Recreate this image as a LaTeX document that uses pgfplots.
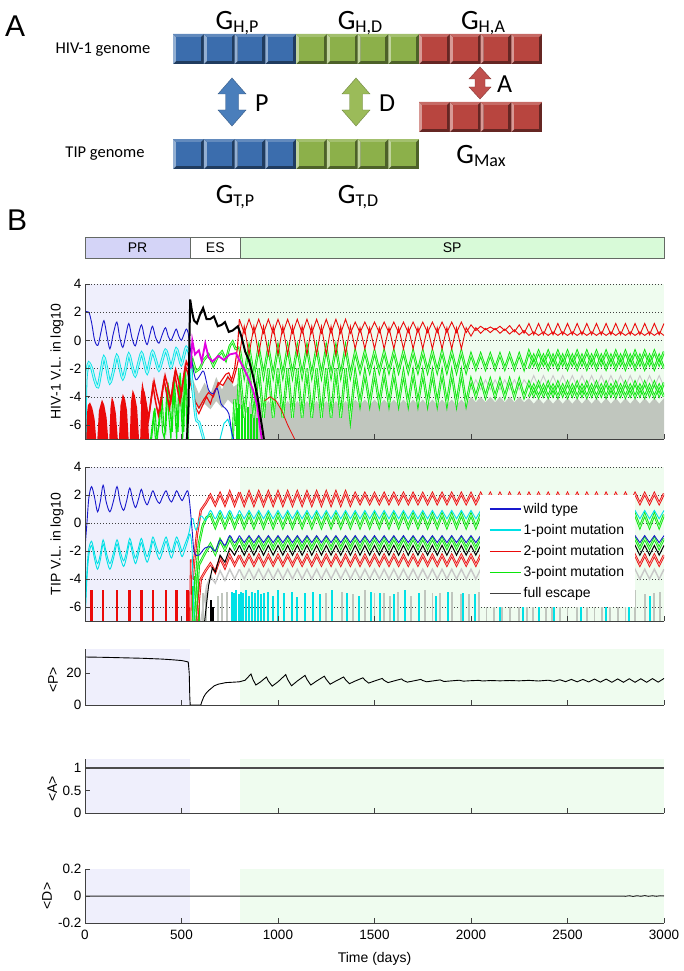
\documentclass[border=0pt]{standalone}
\usepackage{fontspec}
\setmainfont{Liberation Sans}
\newfontfamily\carl{Carlito}
\usepackage{pgfplots}
\pgfplotsset{compat=1.18}
\usepackage{pgfplotstable}
\newcommand{\fs}[1]{\fontsize{#1}{#1}\selectfont}
\definecolor{hblue}{RGB}{25,25,205}
\definecolor{hcyan}{RGB}{0,225,230}
\definecolor{hred}{RGB}{235,10,10}
\definecolor{hgreen}{RGB}{10,230,10}
\definecolor{hmag}{RGB}{225,0,225}
\definecolor{hgray}{RGB}{192,198,190}
\definecolor{hgrayl}{RGB}{200,200,200}
\definecolor{prshade}{RGB}{239,239,252}
\definecolor{spshade}{RGB}{239,252,239}
\definecolor{prbar}{RGB}{212,212,247}
\definecolor{spbar}{RGB}{216,250,216}
\definecolor{axgray}{RGB}{64,64,64}
\definecolor{bargray}{RGB}{100,105,100}
\definecolor{bblue}{RGB}{59,109,173}
\definecolor{bgreen}{RGB}{140,176,74}
\definecolor{bred}{RGB}{184,69,63}
\definecolor{ablue}{RGB}{74,126,187}
\definecolor{agreen}{RGB}{155,187,89}
\definecolor{ared}{RGB}{192,80,77}
\newcommand{\blk}[3]{%
 \pgfmathsetmacro\bx{#1}%
 \fill[#3!55!black] (\bx pt,-#2 pt) rectangle ++(30.75pt,-30pt);
 \fill[#3!55!white] (\bx pt,-#2 pt) -- ++(3pt,-3pt) -- ++(0pt,-24pt) -- ++(-3pt,-3pt) -- cycle;
 \fill[#3!80!white] (\bx pt,-#2 pt) -- ++(30.75pt,0pt) -- ++(-3pt,-3pt) -- ++(-24.75pt,0pt) -- cycle;
 \fill[#3] (\bx pt+3pt,-#2 pt-3pt) rectangle ++(24.75pt,-24pt);
}
\pgfplotstableread{
t r1 r2 gu gu2 gl gl2 gy gyl rt ct gt bt gtt kt rtt gyt
800 1.5 -1.0 -0.5 nan -2.0 nan nan nan 2.2 0.9 0.6 -0.9 -1.1 -1.6 -2.3 -3.3
825 0.5 1.0 -2.5 nan -5.5 nan nan nan 1.3 0.3 -0.3 -1.4 -1.8 -2.3 -3.0 -4.0
850 1.5 -1.0 -0.5 nan -2.0 nan -4.3 nan 2.2 0.9 0.6 -0.9 -1.1 -1.6 -2.3 -3.3
875 0.5 1.0 -2.5 nan -5.5 nan -4.8 nan 1.3 0.3 -0.3 -1.4 -1.8 -2.3 -3.0 -4.0
900 1.5 -1.0 -0.5 nan -2.0 nan -4.3 nan 2.2 0.9 0.6 -0.9 -1.1 -1.6 -2.3 -3.3
925 0.5 1.0 -2.5 nan -5.5 nan -4.8 nan 1.3 0.3 -0.3 -1.4 -1.8 -2.3 -3.0 -4.0
950 1.5 -1.0 -0.5 nan -2.0 nan -4.3 nan 2.2 0.9 0.6 -0.9 -1.1 -1.6 -2.3 -3.3
975 0.5 1.0 -2.5 nan -5.5 nan -4.8 nan 1.3 0.3 -0.3 -1.4 -1.8 -2.3 -3.0 -4.0
1000 1.5 -1.0 -0.5 nan -2.0 nan -4.3 nan 2.2 0.9 0.6 -0.9 -1.1 -1.6 -2.3 -3.3
1025 0.5 1.0 -2.5 nan -5.5 nan -4.8 nan 1.3 0.3 -0.3 -1.4 -1.8 -2.3 -3.0 -4.0
1050 1.5 -1.0 -0.5 nan -2.0 nan -4.3 nan 2.2 0.9 0.6 -0.9 -1.1 -1.6 -2.3 -3.3
1075 0.5 1.0 -2.5 nan -5.5 nan -4.8 nan 1.3 0.3 -0.3 -1.4 -1.8 -2.3 -3.0 -4.0
1100 1.5 -1.0 -0.5 nan -2.0 nan -4.3 nan 2.2 0.9 0.6 -0.9 -1.1 -1.6 -2.3 -3.3
1125 0.5 1.0 -2.5 nan -5.5 nan -4.8 nan 1.3 0.3 -0.3 -1.4 -1.8 -2.3 -3.0 -4.0
1150 1.5 -1.0 -0.5 nan -2.0 nan -4.3 nan 2.2 0.9 0.6 -0.9 -1.1 -1.6 -2.3 -3.3
1175 0.5 1.0 -2.5 nan -5.5 nan -4.8 nan 1.3 0.3 -0.3 -1.4 -1.8 -2.3 -3.0 -4.0
1200 1.5 -1.0 -0.5 nan -2.0 nan -4.3 nan 2.2 0.9 0.6 -0.9 -1.1 -1.6 -2.3 -3.3
1225 0.5 1.0 -2.5 nan -5.5 nan -4.8 nan 1.3 0.3 -0.3 -1.4 -1.8 -2.3 -3.0 -4.0
1250 1.5 -1.0 -0.5 nan -2.0 nan -4.3 nan 2.2 0.9 0.6 -0.9 -1.1 -1.6 -2.3 -3.3
1275 0.5 1.0 -2.5 nan -5.5 nan -4.8 nan 1.3 0.3 -0.3 -1.4 -1.8 -2.3 -3.0 -4.0
1300 1.5 -1.0 -0.5 nan -2.0 nan -4.3 nan 2.2 0.9 0.6 -0.9 -1.1 -1.6 -2.3 -3.3
1325 0.5 1.0 -2.5 nan -5.5 nan -4.8 nan 1.3 0.3 -0.3 -1.4 -1.8 -2.3 -3.0 -4.0
1350 1.5 -1.0 -0.5 nan -2.0 nan -4.3 nan 2.2 0.9 0.6 -0.9 -1.1 -1.6 -2.3 -3.3
1375 0.5 1.0 -2.5 nan -5.5 nan -4.8 nan 1.3 0.3 -0.3 -1.4 -1.8 -2.3 -3.0 -4.0
1400 1.3 -0.6 -0.8 nan -2.3 nan -4.2 nan 2.1 0.9 0.6 -0.9 -1.1 -1.6 -2.3 -3.3
1425 0.55 0.9 -2.2 nan -4.5 nan -4.6 nan 1.4 0.3 -0.3 -1.4 -1.8 -2.3 -3.0 -4.0
1450 1.3 -0.6 -0.8 nan -2.3 nan -4.2 nan 2.1 0.9 0.6 -0.9 -1.1 -1.6 -2.3 -3.3
1475 0.55 0.9 -2.2 nan -4.5 nan -4.6 nan 1.4 0.3 -0.3 -1.4 -1.8 -2.3 -3.0 -4.0
1500 1.3 -0.6 -0.8 nan -2.3 nan -4.2 nan 2.1 0.9 0.6 -0.9 -1.1 -1.6 -2.3 -3.3
1525 0.55 0.9 -2.2 nan -4.5 nan -4.6 nan 1.4 0.3 -0.3 -1.4 -1.8 -2.3 -3.0 -4.0
1550 1.3 -0.6 -0.8 nan -2.3 nan -4.2 nan 2.1 0.9 0.6 -0.9 -1.1 -1.6 -2.3 -3.3
1575 0.55 0.9 -2.2 nan -4.5 nan -4.6 nan 1.4 0.3 -0.3 -1.4 -1.8 -2.3 -3.0 -4.0
1600 1.3 -0.6 -0.8 nan -2.3 nan -4.2 nan 2.1 0.9 0.6 -0.9 -1.1 -1.6 -2.3 -3.3
1625 0.55 0.9 -2.2 nan -4.5 nan -4.6 nan 1.4 0.3 -0.3 -1.4 -1.8 -2.3 -3.0 -4.0
1650 1.3 -0.6 -0.8 nan -2.3 nan -4.2 nan 2.1 0.9 0.6 -0.9 -1.1 -1.6 -2.3 -3.3
1675 0.55 0.9 -2.2 nan -4.5 nan -4.6 nan 1.4 0.3 -0.3 -1.4 -1.8 -2.3 -3.0 -4.0
1700 1.3 -0.6 -0.8 nan -2.3 nan -4.2 nan 2.1 0.9 0.6 -0.9 -1.1 -1.6 -2.3 -3.3
1725 0.55 0.9 -2.2 nan -4.5 nan -4.6 nan 1.4 0.3 -0.3 -1.4 -1.8 -2.3 -3.0 -4.0
1750 1.3 -0.6 -0.8 nan -2.3 nan -4.2 nan 2.1 0.9 0.6 -0.9 -1.1 -1.6 -2.3 -3.3
1775 0.55 0.9 -2.2 nan -4.5 nan -4.6 nan 1.4 0.3 -0.3 -1.4 -1.8 -2.3 -3.0 -4.0
1800 1.3 -0.6 -0.8 nan -2.3 nan -4.2 nan 2.1 0.9 0.6 -0.9 -1.1 -1.6 -2.3 -3.3
1825 0.55 0.9 -2.2 nan -4.5 nan -4.6 nan 1.4 0.3 -0.3 -1.4 -1.8 -2.3 -3.0 -4.0
1850 1.3 -0.6 -0.8 nan -2.3 nan -4.2 nan 2.1 0.9 0.6 -0.9 -1.1 -1.6 -2.3 -3.3
1875 0.55 0.9 -2.2 nan -4.5 nan -4.6 nan 1.4 0.3 -0.3 -1.4 -1.8 -2.3 -3.0 -4.0
1900 1.3 -0.6 -0.8 nan -2.3 nan -4.2 nan 2.1 0.9 0.6 -0.9 -1.1 -1.6 -2.3 -3.3
1925 0.55 0.9 -2.2 nan -4.5 nan -4.6 nan 1.4 0.3 -0.3 -1.4 -1.8 -2.3 -3.0 -4.0
1950 1.3 -0.6 -0.8 nan -2.3 nan -4.2 nan 2.1 0.9 0.6 -0.9 -1.1 -1.6 -2.3 -3.3
1975 0.55 0.9 -2.2 nan -4.5 nan -4.6 nan 1.4 0.3 -0.3 -1.4 -1.8 -2.3 -3.0 -4.0
2000 1.1 0.3 -1.0 nan -2.8 nan -4.0 -3.5 2.1 0.9 0.6 -0.9 -1.1 -1.6 -2.3 -3.3
2025 0.7 0.9 -2.0 nan -4.0 nan -4.4 -2.8 1.4 0.3 -0.3 -1.4 -1.8 -2.3 -3.0 -4.0
2050 1.0 0.5 -1.0 nan -2.8 nan -4.0 -3.5 2.1 0.9 0.6 -0.9 -1.1 -1.6 -2.3 -3.3
2075 0.75 0.85 -2.0 nan -4.0 nan -4.4 -2.8 1.4 0.3 -0.3 -1.4 -1.8 -2.3 -3.0 -4.0
2100 0.95 0.55 -1.0 nan -2.8 nan -4.0 -3.5 2.1 0.9 0.6 -0.9 -1.1 -1.6 -2.3 -3.3
2125 0.75 0.85 -2.0 nan -4.0 nan -4.4 -2.8 1.4 0.3 -0.3 -1.4 -1.8 -2.3 -3.0 -4.0
2150 1.0 0.5 -1.0 nan -2.8 nan -4.0 -3.5 2.1 0.9 0.6 -0.9 -1.1 -1.6 -2.3 -3.3
2175 0.7 0.8 -2.0 nan -4.0 nan -4.4 -2.8 1.4 0.3 -0.3 -1.4 -1.8 -2.3 -3.0 -4.0
2200 1.05 0.45 -1.0 nan -2.8 nan -4.0 -3.5 2.1 0.9 0.6 -0.9 -1.1 -1.6 -2.3 -3.3
2225 0.6 0.75 -2.0 nan -4.0 nan -4.4 -2.8 1.4 0.3 -0.3 -1.4 -1.8 -2.3 -3.0 -4.0
2250 1.1 0.4 -1.0 nan -2.8 nan -4.0 -3.5 2.1 0.9 0.6 -0.9 -1.1 -1.6 -2.3 -3.3
2275 0.5 0.7 -2.0 nan -4.0 nan -4.4 -2.8 1.4 0.3 -0.3 -1.4 -1.8 -2.3 -3.0 -4.0
2300 1.2 0.35 -0.8 -2.0 -3.0 -4.0 -4.1 -3.3 2.1 0.9 0.6 -0.9 -1.1 -1.6 -2.3 -3.3
2325 0.4 0.6 -1.7 -1.1 -3.9 -3.2 -4.5 -2.5 1.4 0.3 -0.3 -1.4 -1.8 -2.3 -3.0 -4.0
2350 1.2 0.35 -0.8 -2.0 -3.0 -4.0 -4.1 -3.3 2.1 0.9 0.6 -0.9 -1.1 -1.6 -2.3 -3.3
2375 0.4 0.6 -1.7 -1.1 -3.9 -3.2 -4.5 -2.5 1.4 0.3 -0.3 -1.4 -1.8 -2.3 -3.0 -4.0
2400 1.2 0.35 -0.8 -2.0 -3.0 -4.0 -4.1 -3.3 2.1 0.9 0.6 -0.9 -1.1 -1.6 -2.3 -3.3
2425 0.4 0.6 -1.7 -1.1 -3.9 -3.2 -4.5 -2.5 1.4 0.3 -0.3 -1.4 -1.8 -2.3 -3.0 -4.0
2450 1.2 0.35 -0.8 -2.0 -3.0 -4.0 -4.1 -3.3 2.1 0.9 0.6 -0.9 -1.1 -1.6 -2.3 -3.3
2475 0.4 0.6 -1.7 -1.1 -3.9 -3.2 -4.5 -2.5 1.4 0.3 -0.3 -1.4 -1.8 -2.3 -3.0 -4.0
2500 1.2 0.35 -0.8 -2.0 -3.0 -4.0 -4.1 -3.3 2.1 0.9 0.6 -0.9 -1.1 -1.6 -2.3 -3.3
2525 0.4 0.6 -1.7 -1.1 -3.9 -3.2 -4.5 -2.5 1.4 0.3 -0.3 -1.4 -1.8 -2.3 -3.0 -4.0
2550 1.2 0.35 -0.8 -2.0 -3.0 -4.0 -4.1 -3.3 2.1 0.9 0.6 -0.9 -1.1 -1.6 -2.3 -3.3
2575 0.4 0.6 -1.7 -1.1 -3.9 -3.2 -4.5 -2.5 1.4 0.3 -0.3 -1.4 -1.8 -2.3 -3.0 -4.0
2600 1.2 0.35 -0.8 -2.0 -3.0 -4.0 -4.1 -3.3 2.1 0.9 0.6 -0.9 -1.1 -1.6 -2.3 -3.3
2625 0.4 0.6 -1.7 -1.1 -3.9 -3.2 -4.5 -2.5 1.4 0.3 -0.3 -1.4 -1.8 -2.3 -3.0 -4.0
2650 1.2 0.35 -0.8 -2.0 -3.0 -4.0 -4.1 -3.3 2.1 0.9 0.6 -0.9 -1.1 -1.6 -2.3 -3.3
2675 0.4 0.6 -1.7 -1.1 -3.9 -3.2 -4.5 -2.5 1.4 0.3 -0.3 -1.4 -1.8 -2.3 -3.0 -4.0
2700 1.2 0.35 -0.8 -2.0 -3.0 -4.0 -4.1 -3.3 2.1 0.9 0.6 -0.9 -1.1 -1.6 -2.3 -3.3
2725 0.4 0.6 -1.7 -1.1 -3.9 -3.2 -4.5 -2.5 1.4 0.3 -0.3 -1.4 -1.8 -2.3 -3.0 -4.0
2750 1.2 0.35 -0.8 -2.0 -3.0 -4.0 -4.1 -3.3 2.1 0.9 0.6 -0.9 -1.1 -1.6 -2.3 -3.3
2775 0.4 0.6 -1.7 -1.1 -3.9 -3.2 -4.5 -2.5 1.4 0.3 -0.3 -1.4 -1.8 -2.3 -3.0 -4.0
2800 1.2 0.35 -0.8 -2.0 -3.0 -4.0 -4.1 -3.3 2.1 0.9 0.6 -0.9 -1.1 -1.6 -2.3 -3.3
2825 0.4 0.6 -1.7 -1.1 -3.9 -3.2 -4.5 -2.5 1.4 0.3 -0.3 -1.4 -1.8 -2.3 -3.0 -4.0
2850 1.2 0.35 -0.8 -2.0 -3.0 -4.0 -4.1 -3.3 2.1 0.9 0.6 -0.9 -1.1 -1.6 -2.3 -3.3
2875 0.4 0.6 -1.7 -1.1 -3.9 -3.2 -4.5 -2.5 1.4 0.3 -0.3 -1.4 -1.8 -2.3 -3.0 -4.0
2900 1.2 0.35 -0.8 -2.0 -3.0 -4.0 -4.1 -3.3 2.1 0.9 0.6 -0.9 -1.1 -1.6 -2.3 -3.3
2925 0.4 0.6 -1.7 -1.1 -3.9 -3.2 -4.5 -2.5 1.4 0.3 -0.3 -1.4 -1.8 -2.3 -3.0 -4.0
2950 1.2 0.35 -0.8 -2.0 -3.0 -4.0 -4.1 -3.3 2.1 0.9 0.6 -0.9 -1.1 -1.6 -2.3 -3.3
2975 0.4 0.6 -1.7 -1.1 -3.9 -3.2 -4.5 -2.5 1.4 0.3 -0.3 -1.4 -1.8 -2.3 -3.0 -4.0
3000 1.2 0.35 -0.8 -2.0 -3.0 -4.0 -4.1 -3.3 2.1 0.9 0.6 -0.9 -1.1 -1.6 -2.3 -3.3
}\SPdata
\pgfplotsset{
 mystyle/.style={scale only axis, width=579pt, xmin=0, xmax=3000,
  axis x line*=bottom, axis y line*=left,
  axis line style={-, draw=axgray, line width=0.7pt},
  tick align=inside, major tick length=5pt,
  tick style={draw=axgray, line width=0.6pt},
  xtick={0,500,...,3000}, xticklabels={},
  tick label style={font=\fs{13.5}},
  /pgf/number format/assume math mode=true,
  /pgf/number format/1000 sep={},
  ylabel style={font=\fs{14}, anchor=base, inner sep=0pt},
  axis on top, unbounded coords=jump},
 gridl/.style={black!75, line width=0.45pt, dash pattern=on 0.7pt off 2.3pt, forget plot},
 gband/.style={draw=hgreen, line width=0.85pt, double=hgreen!30!white, double distance=0.7pt, forget plot},
 rband/.style={draw=hred, line width=0.8pt, double=hred!30!white, double distance=0.7pt, forget plot},
}
\begin{document}
\begin{tikzpicture}
\path[use as bounding box] (0,0) rectangle (683pt,-971pt);
% ---------- Panel A ----------
\begin{scope}[x=1pt,y=-1pt]
\node[anchor=base west, inner sep=0pt, font=\fs{30}] at (5,37) {A};
\node[anchor=base west, inner sep=0pt, font=\fs{30}] at (7,230) {B};
\node[font=\carl\fs{16.5}] at (103,50) {HIV-1 genome};
\node[font=\carl\fs{16.5}] at (105,154) {TIP genome};
\foreach \i in {0,1,2,3} {
 \blk{173+\i*30.75}{34}{bblue}
 \blk{296+\i*30.75}{34}{bgreen}
 \blk{419+\i*30.75}{34}{bred}
 \blk{173+\i*30.75}{139}{bblue}
 \blk{296+\i*30.75}{139}{bgreen}
 \blk{419+\i*30.75}{102}{bred}
}
\fill[ablue, draw=ablue!70!black, line width=0.4pt] (232,78) -- (246,94) -- (238.5,94) -- (238.5,110) -- (246,110) -- (232,126) -- (218,110) -- (225.5,110) -- (225.5,94) -- (218,94) -- cycle;
\fill[agreen, draw=agreen!70!black, line width=0.4pt] (356,78) -- (370,94) -- (362.5,94) -- (362.5,110) -- (370,110) -- (356,126) -- (342,110) -- (349.5,110) -- (349.5,94) -- (342,94) -- cycle;
\fill[ared, draw=ared!70!black, line width=0.4pt] (480,67) -- (491,79) -- (485,79) -- (485,87) -- (491,87) -- (480,99) -- (469,87) -- (475,87) -- (475,79) -- (469,79) -- cycle;
\node[anchor=base, inner sep=0pt] at (237,30) {\carl\fs{28}G\raisebox{-3pt}{\fs{18}H,P}};
\node[anchor=base, inner sep=0pt] at (360,30) {\carl\fs{28}G\raisebox{-3pt}{\fs{18}H,D}};
\node[anchor=base, inner sep=0pt] at (483,30) {\carl\fs{28}G\raisebox{-3pt}{\fs{18}H,A}};
\node[anchor=base, inner sep=0pt] at (235,203) {\carl\fs{28}G\raisebox{-3pt}{\fs{18}T,P}};
\node[anchor=base, inner sep=0pt] at (358,203) {\carl\fs{28}G\raisebox{-3pt}{\fs{18}T,D}};
\node[anchor=base, inner sep=0pt] at (481,163) {\carl\fs{28}G\raisebox{-3pt}{\fs{18}Max}};
\node[anchor=base west, inner sep=0pt] at (255,112) {\carl\fs{26}P};
\node[anchor=base west, inner sep=0pt] at (379,112) {\carl\fs{26}D};
\node[anchor=base west, inner sep=0pt] at (497,93) {\carl\fs{26}A};
\end{scope}
% ---------- Phase bar ----------
\begin{axis}[scale only axis, width=579pt, height=21pt, at={(85pt,-258pt)}, anchor=south west,
 xmin=0, xmax=3000, ymin=0, ymax=1, hide axis, clip=false]
\addplot[fill=prbar, draw=bargray, line width=0.8pt] coordinates {(0,0)(545,0)(545,1)(0,1)} -- cycle;
\addplot[fill=white, draw=bargray, line width=0.8pt] coordinates {(545,0)(805,0)(805,1)(545,1)} -- cycle;
\addplot[fill=spbar, draw=bargray, line width=0.8pt] coordinates {(805,0)(3000,0)(3000,1)(805,1)} -- cycle;
\node[font=\fs{14}] at (axis cs:272,0.5) {PR};
\node[font=\fs{14}] at (axis cs:675,0.5) {ES};
\node[font=\fs{14}] at (axis cs:1902,0.5) {SP};
\end{axis}
% ---------- Axis 1: HIV-1 ----------
\begin{axis}[mystyle, at={(85pt,-439pt)}, anchor=south west, height=155pt,
 ymin=-7, ymax=4, ytick={-6,-4,...,4},
 ylabel={HIV-1 V.L. in log10}, ylabel style={at={(axis description cs:-0.042,0.5)}}]
\addplot[fill=prshade, draw=none, forget plot] coordinates {(0,-7)(545,-7)(545,4)(0,4)} -- cycle;
\addplot[fill=spshade, draw=none, forget plot] coordinates {(805,-7)(3000,-7)(3000,4)(805,4)} -- cycle;
\pgfplotsinvokeforeach{-6,-4,-2,0,2,4}{\addplot[gridl] coordinates {(0,#1)(3000,#1)};}
\addplot[fill=hgray, draw=none, forget plot] table[x=t,y=gy]{\SPdata} -- (axis cs:3000,-7) -- (axis cs:850,-7) -- cycle;
\addplot[fill=hgray, draw=none, forget plot] coordinates {(560,-2.8)(590,-3.8)(620,-3.0)(650,-3.8)(680,-2.6)(710,-3.5)(740,-2.4)(770,-3.3)(800,-3.0)(830,-4.5)(845,-5.2)(800,-4.8)(770,-4.6)(740,-4.2)(710,-4.8)(680,-4.3)(650,-4.9)(620,-4.5)(590,-4.9)(560,-4.2)} -- cycle;
\addplot[hgrayl, line width=0.9pt, forget plot] table[x=t,y=gyl]{\SPdata};
% red PR mass
\addplot[fill=hred, draw=none, forget plot] coordinates {(3,-7)(8,-5.5)(15,-4.6)(26,-4.4)(38,-4.8)(50,-5.6)(58,-7)(64,-7)(72,-5)(88,-4.2)(100,-4.6)(112,-5.5)(120,-7)(126,-7)(132,-4.8)(139,-4.0)(150,-4.4)(160,-5.2)(170,-7)(176,-7)(184,-4.6)(196,-3.8)(208,-4.2)(218,-5)(226,-7)(232,-7)(238,-4.4)(247,-3.5)(258,-3.9)(270,-4.8)(280,-7)(286,-7)(292,-4.2)(298,-3.3)(310,-3.7)(322,-4.6)(332,-7)} -- cycle;
% green PR spikes
\addplot[hgreen, line width=1.1pt, forget plot] coordinates {(340,-7)(355,-5.3)(365,-7)(375,-7)(392,-4.2)(402,-6.5)(412,-7)(425,-3.3)(435,-5.5)(445,-7)(458,-2.8)(466,-5)(475,-7)(488,-2.5)(497,-4.5)(506,-7)(515,-2.3)(523,-4)(530,-7)};
\addplot[hgreen, line width=1.1pt, forget plot] coordinates {(345,-7)(362,-4.8)(372,-6.8)(385,-6)(398,-3.8)(408,-6)(418,-6.5)(430,-3)(440,-5)(452,-6.5)(462,-2.6)(471,-4.5)(482,-6.5)(493,-2.3)(502,-4)(512,-6.5)(520,-2)(528,-4)(535,-7)};
% green SP
\addplot[gband] coordinates {(765,-7)(775,-4.2)(785,-6)(795,-3.5)(800,-2.0)};
\addplot[hgreen, line width=2pt, forget plot] coordinates {(785,-7)(785,-4.8)(785,nan)(800,-7)(800,-4.5)(800,nan)(815,-7)(815,-4.6)(815,nan)(830,-7)(830,-5)(830,nan)(845,-7)(845,-4.7)(845,nan)(860,-7)(860,-5.2)(860,nan)(875,-7)(875,-5)(875,nan)(890,-7)(890,-5.5)(890,nan)};
\addplot[gband] table[x=t,y=gl]{\SPdata};
\addplot[gband] table[x=t,y=gl2]{\SPdata};
\addplot[gband] coordinates {(548,-3)(560,-1.5)(575,-2.2)(595,-2.0)(615,-1.4)(640,-1.0)(665,-1.8)(690,-1.1)(710,-0.8)(730,-1.4)(750,-0.4)(765,-0.1)(780,-0.6)(800,-0.5)};
\addplot[gband] table[x=t,y=gu]{\SPdata};
\addplot[gband] table[x=t,y=gu2]{\SPdata};
% red lines
\addplot[hred, line width=1.5pt, forget plot] coordinates {(290,-4.5)(298,-3.3)(312,-4.3)(330,-5.5)(345,-4)(358,-2.9)(372,-3.8)(390,-4.8)(403,-3.5)(415,-2.5)(430,-3.3)(445,-4.3)(458,-3)(470,-2.1)(485,-2.9)(500,-3.8)(512,-2.5)(525,-1.5)(535,-1.8)(545,-2.5)};
\addplot[hred, line width=1.5pt, forget plot] coordinates {(295,-3.6)(305,-5.3)(320,-6.5)(352,-3.2)(365,-4.3)(380,-5.3)(410,-2.8)(423,-3.8)(438,-4.8)(465,-2.4)(478,-3.4)(492,-4.4)(520,-1.8)(532,-2.3)(545,-3)};
\addplot[hred, line width=1.1pt, forget plot] coordinates {(545,-2.5)(560,-3.5)(575,-4.8)(590,-5.2)(610,-4.6)(630,-4)(650,-4.5)(670,-3.6)(690,-3.2)(710,-2.8)(730,-2.4)(745,-2.3)(760,-2.8)(775,-2)(790,-0.5)(800,1.5)};
\addplot[hred, line width=1.1pt, forget plot] coordinates {(545,-3)(570,-4.3)(590,-4.8)(615,-4.2)(640,-3.7)(665,-4.0)(690,-3.0)(715,-3.2)(740,-2.6)(765,-3.0)(785,-2)(800,-1.0)};
\addplot[hred, line width=0.8pt, forget plot] coordinates {(930,-4.3)(960,-4)(990,-4.3)(1020,-5)(1050,-6)(1086,-7)};
\addplot[hred, line width=0.9pt, forget plot] table[x=t,y=r1]{\SPdata};
\addplot[hred, line width=0.9pt, forget plot] table[x=t,y=r2]{\SPdata};
% cyan
\addplot[draw=hcyan, line width=0.8pt, double=hcyan!30!white, double distance=1.2pt, smooth, tension=0.5, forget plot] coordinates {(0,-7)(5,-3)(12,-2)(20,-1.6)(35,-2)(50,-2.8)(67,-3.3)(83,-2.2)(98,-1.2)(113,-2)(129,-3)(147,-2.2)(165,-1.1)(180,-1.9)(196,-2.7)(212,-1.9)(227,-1.0)(243,-1.8)(260,-2.5)(276,-1.7)(293,-0.9)(308,-1.6)(322,-2.3)(336,-1.5)(350,-0.8)(366,-1.4)(383,-2.1)(400,-1.4)(417,-0.7)(431,-1.2)(445,-1.9)(459,-1.3)(473,-0.6)(486,-1.1)(499,-1.7)(512,-1.1)(525,-0.5)(540,-1)(555,-3)(575,-5.5)(590,-5.8)(605,-6.5)(615,-7)};
\addplot[hcyan, line width=1pt, forget plot] coordinates {(700,-7)(720,-5.9)(740,-5.6)(755,-6.2)(765,-7)};
% blue
\addplot[hblue, line width=0.9pt, smooth, tension=0.5, forget plot] coordinates {(0,2)(20,2)(35,1.2)(50,0)(67,-0.35)(83,0.6)(98,1.4)(113,0.4)(129,-0.6)(147,0.5)(165,1.3)(180,0.2)(196,-0.5)(212,0.4)(227,1.2)(243,0.2)(260,-0.4)(276,0.4)(293,1.1)(308,0.2)(322,-0.3)(336,0.4)(350,1.0)(366,0.2)(383,-0.2)(400,0.4)(417,0.9)(431,0.3)(445,0)(459,0.4)(473,0.8)(486,0.3)(499,0)(512,0.4)(525,0.8)(535,0.5)(545,-0.5)(560,-2)(575,-2.8)(595,-2.5)(615,-2.2)(640,-3.5)(665,-3.8)(685,-3.4)(705,-4.5)(725,-4.8)(745,-5.2)(760,-6.5)(770,-7)};
% magenta
\addplot[hmag, line width=1.8pt, forget plot] coordinates {(548,-2)(556,0)(570,-1)(590,-0.7)(605,-1.5)(623,-0.2)(640,-1.2)(660,-1.5)(691,-1.1)(720,-1.4)(750,-1.0)(782,-0.9)(800,-1.4)(827,-2.1)(850,-2.8)(870,-3.5)(894,-4.7)(905,-6)(916,-7)};
% black
\addplot[black, line width=2pt, forget plot] coordinates {(528,-7)(536,-5)(541,0)(545,2.9)(555,2.0)(565,1.4)(580,1.2)(595,1.8)(612,2.3)(630,1.5)(648,1.5)(668,1.7)(688,1.0)(708,1.1)(725,1.3)(745,0.6)(765,0.7)(792,1.0)(810,0.3)(830,-0.8)(849,-1.4)(870,-2.5)(894,-4)(910,-5.5)(927,-7)};
\end{axis}
% ---------- Axis 2: TIP ----------
\begin{axis}[mystyle, at={(85pt,-621pt)}, anchor=south west, height=154pt,
 ymin=-7, ymax=4, ytick={-6,-4,...,4},
 ylabel={TIP V.L. in log10}, ylabel style={at={(axis description cs:-0.042,0.5)}},
 legend image code/.code={\draw[#1, line width=1.6pt] (0pt,0pt) -- (31pt,0pt);},
 legend style={at={(0.682,0.818)}, anchor=north west, draw=none, fill=white, font=\fs{14},
  inner xsep=9pt, inner ysep=6pt, row sep=5.5pt, cells={anchor=west}}]
\addplot[fill=prshade, draw=none, forget plot] coordinates {(0,-7)(545,-7)(545,4)(0,4)} -- cycle;
\addplot[fill=spshade, draw=none, forget plot] coordinates {(805,-7)(3000,-7)(3000,4)(805,4)} -- cycle;
\pgfplotsinvokeforeach{-6,-4,-2,0,2,4}{\addplot[gridl] coordinates {(0,#1)(3000,#1)};}
% bottom bars
\addplot[hgray, line width=1.8pt, forget plot] coordinates {(610,-7)(610,-5.0)(610,nan)(625,-7)(625,-4.8)(625,nan)(690,-7)(690,-5.2)(690,nan)(710,-7)(710,-5.0)(710,nan)(735,-7)(735,-4.9)(735,nan)(1250,-7)(1250,-5.0)(1250,nan)(1330,-7)(1330,-4.9)(1330,nan)(1390,-7)(1390,-5.1)(1390,nan)(1450,-7)(1450,-4.8)(1450,nan)(1500,-7)(1500,-5.0)(1500,nan)(1550,-7)(1550,-5.0)(1550,nan)(1580,-7)(1580,-5.2)(1580,nan)(1620,-7)(1620,-4.9)(1620,nan)(1660,-7)(1660,-5.1)(1660,nan)(1690,-7)(1690,-5.2)(1690,nan)(1760,-7)(1760,-4.8)(1760,nan)(1800,-7)(1800,-5.0)(1800,nan)(1840,-7)(1840,-5.0)(1840,nan)(1900,-7)(1900,-4.9)(1900,nan)(1950,-7)(1950,-5.1)(1950,nan)(1990,-7)(1990,-5.1)(1990,nan)(2040,-7)(2040,-4.9)(2040,nan)(2080,-7)(2080,-4.8)(2080,nan)(2120,-7)(2120,-5.0)(2120,nan)(2160,-7)(2160,-5.1)(2160,nan)(2200,-7)(2200,-4.9)(2200,nan)(2250,-7)(2250,-5.2)(2250,nan)(2290,-7)(2290,-5.0)(2290,nan)(2320,-7)(2320,-4.8)(2320,nan)(2390,-7)(2390,-5.0)(2390,nan)(2420,-7)(2420,-4.9)(2420,nan)(2460,-7)(2460,-4.9)(2460,nan)(2500,-7)(2500,-5.1)(2500,nan)(2550,-7)(2550,-5.0)(2550,nan)(2600,-7)(2600,-4.8)(2600,nan)(2640,-7)(2640,-5.0)(2640,nan)(2680,-7)(2680,-5.1)(2680,nan)(2720,-7)(2720,-4.9)(2720,nan)(2760,-7)(2760,-5.2)(2760,nan)(2800,-7)(2800,-5.0)(2800,nan)(2850,-7)(2850,-4.8)(2850,nan)(2900,-7)(2900,-5.1)(2900,nan)(2950,-7)(2950,-5.0)(2950,nan)(2980,-7)(2980,-4.9)(2980,nan)};
\addplot[hcyan, line width=2pt, forget plot] coordinates {(760,-7)(760,-4.9)(760,nan)(772,-7)(772,-5.0)(772,nan)(784,-7)(784,-4.8)(784,nan)(796,-7)(796,-5.1)(796,nan)(808,-7)(808,-4.9)(808,nan)(820,-7)(820,-5.0)(820,nan)(835,-7)(835,-4.8)(835,nan)(850,-7)(850,-5.2)(850,nan)(865,-7)(865,-4.9)(865,nan)(880,-7)(880,-5.0)(880,nan)(895,-7)(895,-4.8)(895,nan)(910,-7)(910,-5.1)(910,nan)(930,-7)(930,-5.0)(930,nan)(950,-7)(950,-4.9)(950,nan)(975,-7)(975,-5.2)(975,nan)(1000,-7)(1000,-4.8)(1000,nan)(1030,-7)(1030,-5.0)(1030,nan)(1070,-7)(1070,-4.9)(1070,nan)(1100,-7)(1100,-5.3)(1100,nan)(1140,-7)(1140,-5.0)(1140,nan)(1180,-7)(1180,-4.9)(1180,nan)(1220,-7)(1220,-5.1)(1220,nan)(1280,-7)(1280,-4.8)(1280,nan)(1360,-7)(1360,-5.0)(1360,nan)(1420,-7)(1420,-5.2)(1420,nan)(1480,-7)(1480,-4.9)(1480,nan)(1530,-7)(1530,-5.0)(1530,nan)(1600,-7)(1600,-5.1)(1600,nan)(1660,-7)(1660,-4.8)(1660,nan)(1730,-7)(1730,-5.0)(1730,nan)(1820,-7)(1820,-5.2)(1820,nan)(1880,-7)(1880,-4.9)(1880,nan)(1960,-7)(1960,-5.0)(1960,nan)(2020,-7)(2020,-5.1)(2020,nan)(2150,-7)(2150,-5.0)(2150,nan)(2270,-7)(2270,-4.9)(2270,nan)(2350,-7)(2350,-5.2)(2350,nan)(2430,-7)(2430,-5.0)(2430,nan)(2570,-7)(2570,-5.1)(2570,nan)(2700,-7)(2700,-4.9)(2700,nan)(2820,-7)(2820,-5.0)(2820,nan)(2930,-7)(2930,-5.2)(2930,nan)};
\addplot[hred, line width=1.4pt, forget plot] coordinates {(31,-7)(31,-4.8)(31,nan)(37,-7)(37,-4.8)(37,nan)(91,-7)(91,-4.8)(91,nan)(97,-7)(97,-4.8)(97,nan)(163,-7)(163,-4.8)(163,nan)(169,-7)(169,-4.8)(169,nan)(229,-7)(229,-4.8)(229,nan)(235,-7)(235,-4.8)(235,nan)(289,-7)(289,-4.8)(289,nan)(295,-7)(295,-4.8)(295,nan)(349,-7)(349,-4.8)(349,nan)(355,-7)(355,-4.8)(355,nan)(417,-7)(417,-4.8)(417,nan)(423,-7)(423,-4.8)(423,nan)(472,-7)(472,-4.8)(472,nan)(478,-7)(478,-4.8)(478,nan)(527,-7)(527,-4.8)(527,nan)(533,-7)(533,-4.8)(533,nan)};
\addplot[hgreen, line width=2pt, forget plot] coordinates {(560,-7)(560,-4.5)(560,nan)(570,-7)(570,-3.8)(570,nan)(580,-7)(580,-5)(580,nan)(590,-7)(590,-4.2)(590,nan)};
\addplot[black, line width=2pt, forget plot] coordinates {(655,-7)(655,-5.5)(655,nan)(665,-7)(665,-6)(665,nan)};
% SP bands
\addplot[hgrayl, line width=1.4pt, forget plot] coordinates {(600,-7)(630,-4.5)(650,-3.8)(675,-4.3)(700,-3.4)(725,-4.1)(750,-3.3)(775,-4.0)(800,-3.3)};
\addplot[hgrayl, line width=1.4pt, forget plot] table[x=t,y=gyt]{\SPdata};
\addplot[rband] coordinates {(580,-7)(600,-4)(625,-3.4)(650,-2.9)(675,-3.5)(700,-2.5)(725,-3.2)(750,-2.3)(775,-3.0)(800,-2.3)};
\addplot[rband] table[x=t,y=rtt]{\SPdata};
\addplot[black, line width=1pt, forget plot] coordinates {(620,-7)(640,-4.5)(660,-3.2)(675,-3.5)(700,-2.3)(725,-2.8)(750,-1.8)(775,-2.3)(800,-1.6)};
\addplot[black, line width=1pt, forget plot] table[x=t,y=kt]{\SPdata};
\addplot[gband] coordinates {(570,-7)(590,-3)(620,-2.2)(650,-1.5)(675,-2.2)(700,-1.2)(725,-1.9)(750,-1.1)(775,-1.8)(800,-1.1)};
\addplot[gband] table[x=t,y=gtt]{\SPdata};
\addplot[hblue, line width=0.9pt, forget plot] table[x=t,y=bt]{\SPdata};
\addplot[gband] coordinates {(560,-7)(575,-4)(590,-1.5)(610,-0.2)(630,0.4)(650,0.6)(675,-0.3)(700,0.6)(725,-0.3)(750,0.6)(775,-0.3)(800,0.6)};
\addplot[gband] table[x=t,y=gt]{\SPdata};
\addplot[hcyan, line width=0.9pt, forget plot] table[x=t,y=ct]{\SPdata};
\addplot[rband] coordinates {(545,-7)(550,-2.6)(558,-4)(566,-2.7)(580,-0.8)(600,0.9)(625,1.4)(650,2.0)(675,1.3)(700,2.1)(725,1.3)(750,2.2)(775,1.3)(800,2.2)};
\addplot[rband] table[x=t,y=rt]{\SPdata};
% PR lines
\addplot[hcyan, line width=0.9pt, smooth, tension=0.5, forget plot] coordinates {(0,-7)(8,-4)(18,-2)(34,-1.3)(50,-2.2)(65,-2.9)(80,-2.2)(94,-1.2)(110,-2.1)(129,-2.9)(148,-2.1)(166,-1.2)(182,-2.0)(200,-2.7)(216,-2.0)(232,-1.1)(248,-1.9)(262,-2.5)(277,-1.8)(292,-1.1)(307,-1.8)(322,-2.4)(337,-1.8)(352,-1.0)(370,-1.7)(386,-2.2)(403,-1.6)(420,-1.0)(434,-1.6)(448,-2.1)(462,-1.5)(475,-1.0)(490,-1.5)(503,-2.0)(518,-1.5)(532,-1.0)(542,-0.5)(550,0.2)(560,0.3)(575,-0.5)(600,0.5)(625,0.2)(650,0.9)(675,0.3)(700,0.9)(725,0.3)(750,0.9)(775,0.3)(800,0.9)};
\addplot[hcyan, line width=0.9pt, smooth, tension=0.5, forget plot] coordinates {(0,-7)(10,-4)(20,-2.3)(34,-1.6)(50,-2.6)(65,-3.3)(80,-2.6)(94,-1.5)(110,-2.5)(129,-3.3)(148,-2.5)(166,-1.5)(182,-2.4)(200,-3.1)(216,-2.4)(232,-1.4)(248,-2.3)(262,-2.9)(277,-2.2)(292,-1.4)(307,-2.2)(322,-2.8)(337,-2.2)(352,-1.3)(370,-2.1)(386,-2.6)(403,-2.0)(420,-1.3)(434,-2.0)(448,-2.5)(462,-1.9)(475,-1.3)(490,-1.9)(503,-2.4)(518,-1.9)(532,-1.3)(545,-0.8)(555,-2)(565,-7)};
\addplot[hblue, line width=0.9pt, smooth, tension=0.5, forget plot] coordinates {(0,-1.8)(10,0)(20,1.8)(34,2.6)(50,1.8)(65,0.8)(80,1.6)(94,2.7)(110,1.5)(129,0.8)(148,1.6)(166,2.6)(182,1.5)(200,0.9)(216,1.6)(232,2.5)(248,1.6)(262,1.1)(277,1.7)(292,2.4)(307,1.7)(322,1.3)(337,1.8)(352,2.3)(370,1.7)(386,1.4)(403,1.9)(420,2.3)(434,1.8)(448,1.5)(462,1.9)(475,2.3)(490,1.9)(503,1.6)(518,2.0)(532,2.3)(542,1.5)(555,-0.5)(566,-2.1)(590,-2.3)(620,-1.8)(650,-1.7)(675,-2.0)(700,-1.2)(725,-1.6)(750,-0.9)(775,-1.4)(800,-0.9)};
\addlegendimage{color=hblue}\addlegendentry{wild type}
\addlegendimage{color=hcyan}\addlegendentry{1-point mutation}
\addlegendimage{color=hred}\addlegendentry{2-point mutation}
\addlegendimage{color=hgreen}\addlegendentry{3-point mutation}
\addlegendimage{color=black!75}\addlegendentry{full escape}
\end{axis}
% ---------- Axis 3: <P> ----------
\begin{axis}[mystyle, at={(85pt,-705pt)}, anchor=south west, height=56pt,
 ymin=0, ymax=35, ytick={0,20},
 ylabel={\textless P\textgreater}, ylabel style={at={(axis description cs:-0.047,0.45)}}]
\addplot[fill=prshade, draw=none, forget plot] coordinates {(0,0)(545,0)(545,35)(0,35)} -- cycle;
\addplot[fill=spshade, draw=none, forget plot] coordinates {(805,0)(3000,0)(3000,35)(805,35)} -- cycle;
\addplot[black, line width=0.9pt] coordinates {(0,30)(100,29.8)(200,29.5)(300,29.2)(400,28.7)(450,28.3)(500,27.8)(525,27.2)(535,26.8)(540,20)(543,5)(545,0)(600,0)(605,2)(615,5)(625,7)(640,9)(655,10.5)(670,12)(690,13)(710,13.5)(730,14)(760,14.2)(800,14.5)(830,15.5)(860,19.4)(870,16)(885,12.5)(910,14.5)(940,17.5)(950,15)(970,11.8)(1000,14.5)(1040,19)(1050,16)(1070,12)(1100,15)(1140,18.5)(1150,16)(1170,12.5)(1200,15)(1240,18)(1250,16)(1270,13)(1300,15)(1340,17.5)(1350,15.8)(1370,13.3)(1400,15)(1440,17)(1450,15.6)(1470,13.7)(1500,15)(1540,16.6)(1550,15.4)(1570,14)(1600,15)(1640,16.3)(1650,15.3)(1670,14.3)(1700,15)(1740,16)(1750,15.3)(1770,14.5)(1800,15)(1840,15.7)(1860,14.7)(1900,15.1)(1940,15.5)(1960,14.9)(2000,15.2)(2040,15.4)(2060,15)(2100,15.3)(2150,15.1)(2200,15.3)(2250,15.1)(2300,15.4)(2350,15.0)(2400,15.5)(2430,14.8)(2460,15.8)(2490,14.6)(2520,16)(2550,14.5)(2580,16)(2610,14.4)(2640,16.2)(2670,14.3)(2700,16.2)(2730,14.2)(2760,16.3)(2790,14.2)(2820,16.4)(2850,14.2)(2880,16.4)(2910,14.2)(2940,16.5)(2970,14.3)(3000,16.6)};
\end{axis}
% ---------- Axis 4: <A> ----------
\begin{axis}[mystyle, at={(85pt,-813pt)}, anchor=south west, height=54pt,
 ymin=0, ymax=1.2, ytick={0,0.5,1},
 ylabel={\textless A\textgreater}, ylabel style={at={(axis description cs:-0.048,0.45)}}]
\addplot[fill=prshade, draw=none, forget plot] coordinates {(0,0)(545,0)(545,1.2)(0,1.2)} -- cycle;
\addplot[fill=spshade, draw=none, forget plot] coordinates {(805,0)(3000,0)(3000,1.2)(805,1.2)} -- cycle;
\addplot[black!70, line width=1.5pt] coordinates {(0,1)(3000,1)};
\end{axis}
% ---------- Axis 5: <D> ----------
\begin{axis}[mystyle, at={(85pt,-923pt)}, anchor=south west, height=54pt,
 ymin=-0.2, ymax=0.2, ytick={-0.2,0,0.2},
 xticklabels={0,500,1000,1500,2000,2500,3000},
 xticklabel style={yshift=-4pt},
 xlabel={Time (days)}, xlabel style={at={(axis description cs:0.5,-0.667)}, anchor=center, font=\fs{14}},
 ylabel={\textless D\textgreater}, ylabel style={at={(axis description cs:-0.057,0.5)}}]
\addplot[fill=prshade, draw=none, forget plot] coordinates {(0,-0.2)(545,-0.2)(545,0.2)(0,0.2)} -- cycle;
\addplot[fill=spshade, draw=none, forget plot] coordinates {(805,-0.2)(3000,-0.2)(3000,0.2)(805,0.2)} -- cycle;
\addplot[black!85, line width=1pt] coordinates {(0,0)(2780,0)(2800,-0.002)(2820,0.002)(2840,-0.003)(2860,0.002)(2880,-0.002)(2900,0.003)(2920,-0.002)(2940,0.002)(2960,-0.002)(2980,0.002)(3000,0)};
\end{axis}
\end{tikzpicture}
\end{document}
